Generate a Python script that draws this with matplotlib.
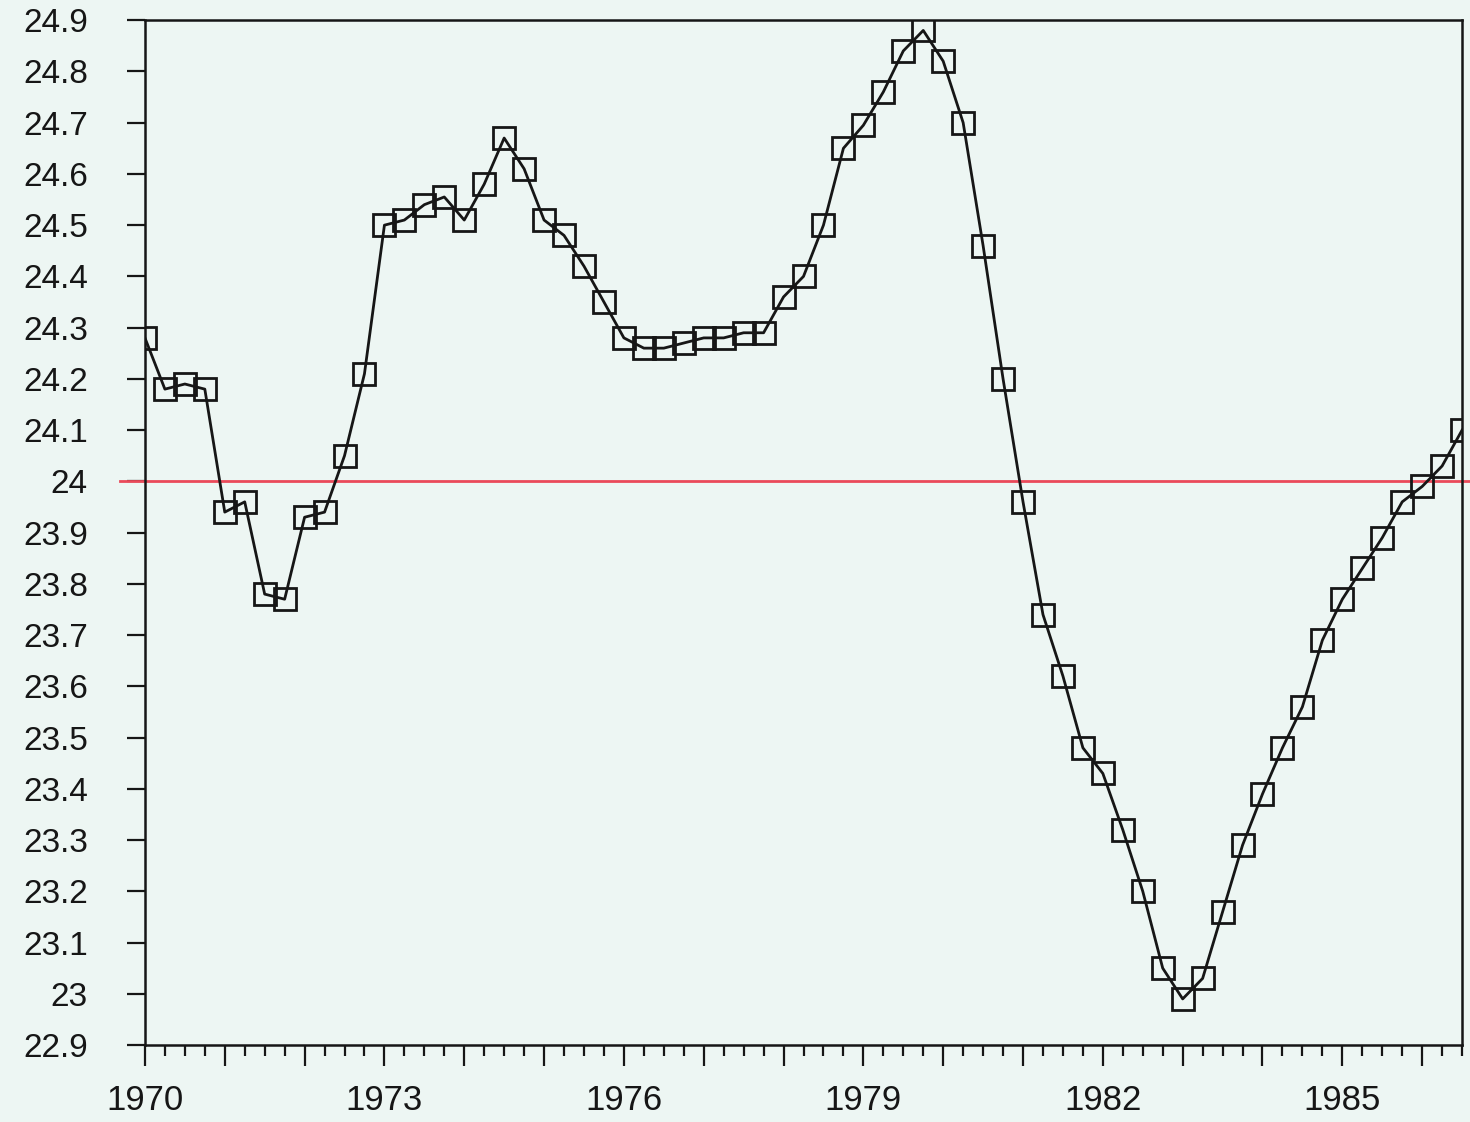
import matplotlib
matplotlib.use("Agg")
import matplotlib.pyplot as plt
from matplotlib.ticker import MultipleLocator, FixedLocator
import numpy as np

start_year = 1970
values = [
    24.28, 24.18, 24.19, 24.18, 23.94, 23.96, 23.78, 23.77, 23.93, 23.94,
    24.05, 24.21, 24.50, 24.51, 24.54, 24.555, 24.51, 24.58, 24.67, 24.61,
    24.51, 24.48, 24.42, 24.35, 24.28, 24.26, 24.26, 24.27, 24.28, 24.28,
    24.29, 24.29, 24.36, 24.40, 24.50, 24.65, 24.695, 24.76, 24.84, 24.88,
    24.82, 24.70, 24.46, 24.20, 23.96, 23.74, 23.62, 23.48, 23.43, 23.32,
    23.20, 23.05, 22.99, 23.03, 23.16, 23.29, 23.39, 23.48, 23.56, 23.69,
    23.77, 23.83, 23.89, 23.96, 23.99, 24.03, 24.10,
]
reference_level = 24.0
x_tick_labels = ["1970", "1973", "1976", "1979", "1982", "1985"]
y_ticks = [22.9, 23.0, 23.1, 23.2, 23.3, 23.4, 23.5, 23.6, 23.7, 23.8, 23.9,
           24.0, 24.1, 24.2, 24.3, 24.4, 24.5, 24.6, 24.7, 24.8, 24.9]
y_tick_labels = ["22.9", "23", "23.1", "23.2", "23.3", "23.4", "23.5", "23.6",
                 "23.7", "23.8", "23.9", "24", "24.1", "24.2", "24.3", "24.4",
                 "24.5", "24.6", "24.7", "24.8", "24.9"]

x = start_year + np.arange(len(values)) * 0.25

bg = "#edf6f3"
ink = "#161616"
plt.rcParams['font.family'] = ['Liberation Sans', 'DejaVu Sans']

fig = plt.figure(figsize=(14.70, 11.22), dpi=100, facecolor=bg)
ax = fig.add_axes([0.0986, 0.0686, 0.8960, 0.9134], facecolor=bg)

ax.plot(x, values, color=ink, lw=2.0, marker="s", ms=15.5,
        mfc="none", mec=ink, mew=2.0, zorder=3)
ax.axhline(reference_level, xmin=-0.019, xmax=1.01, color="#ea4a5a",
           lw=2.0, clip_on=False, zorder=2)

ax.set_xlim(1970, 1986.5)
ax.set_ylim(22.9, 24.9)

xt = list(range(1970, 1987))
ax.xaxis.set_major_locator(FixedLocator(xt))
ax.xaxis.set_minor_locator(MultipleLocator(0.25))
ax.set_xticks(xt)
ax.set_xticklabels([str(t) if str(t) in x_tick_labels else "" for t in xt])
ax.set_yticks(y_ticks)
ax.set_yticklabels(y_tick_labels)

ax.tick_params(axis="y", direction="out", length=13, width=1.6,
               pad=28, labelsize=24, colors=ink)
ax.tick_params(axis="x", which="major", direction="out", length=15, width=1.6,
               pad=13, labelsize=25, colors=ink)
ax.tick_params(axis="x", which="minor", direction="out", length=8, width=1.6,
               colors=ink)

for s in ax.spines.values():
    s.set_color(ink)
    s.set_linewidth(1.8)

fig.savefig("out.png", dpi=100, facecolor=bg)
